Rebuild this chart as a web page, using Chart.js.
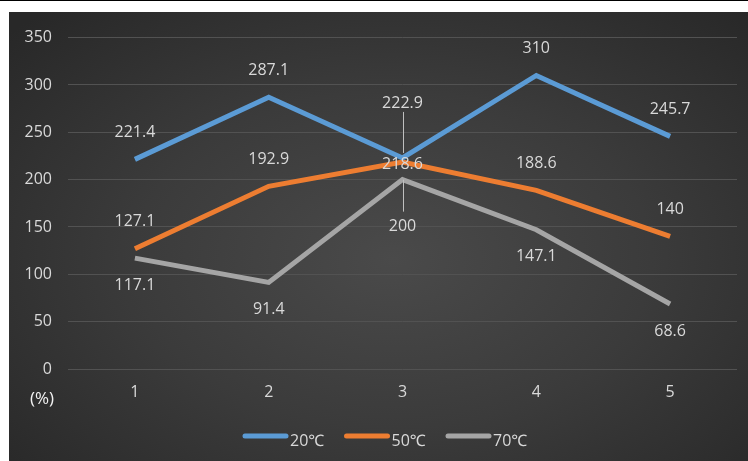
<!DOCTYPE html>
<html>
<head>
<meta charset="utf-8">
<script src="https://cdn.jsdelivr.net/npm/chart.js@4.4.1/dist/chart.umd.min.js"></script>
<style>
  html, body { margin: 0; padding: 0; background: #ffffff; }
  body { width: 748px; height: 461px; position: relative; overflow: hidden; }
  #topline { position: absolute; left: 0; top: 0; width: 748px; height: 1px; background: #000; }
  #panel {
    position: absolute; left: 9px; top: 12px; width: 739px; height: 449px;
    background: radial-gradient(ellipse 70% 75% at 52% 55%, #4a4a4a 0%, #3b3b3b 50%, #282828 100%);
  }
  canvas { display: block; }
</style>
</head>
<body>
<div id="topline"></div>
<div id="panel"><canvas id="chart" width="739" height="449"></canvas></div>
<script>
// Categories and measured values per temperature
const categories = ['1', '2', '3', '4', '5'];
const seriesNames = ['20℃', '50℃', '70℃'];
const values20 = [221.4, 287.1, 222.9, 310, 245.7];
const values50 = [127.1, 192.9, 218.6, 188.6, 140];
const values70 = [117.1, 91.4, 200, 147.1, 68.6];
const yTicks = [0, 50, 100, 150, 200, 250, 300, 350];
const unitLabel = '(%)';

const colors = ['#5b9bd5', '#ed7d31', '#a5a5a5'];
const textColor = '#d9d9d9';
const fontFamily = '"Open Sans", "Noto Sans", sans-serif';

// Where each value label sits relative to its point: [dy, leaderFrom, leaderTo]
const labelPlacement = [
  [[-27], [-27], [-55, -46, -5], [-27], [-27]],
  [[-27], [-27], [2], [-27], [-27]],
  [[27], [27], [47, 0, 32], [27], [27]]
];

const valueLabels = {
  id: 'valueLabels',
  afterDatasetsDraw(chart) {
    const ctx = chart.ctx;
    ctx.save();
    ctx.font = '16px ' + fontFamily;
    ctx.fillStyle = textColor;
    ctx.textAlign = 'center';
    ctx.textBaseline = 'middle';
    chart.data.datasets.forEach((ds, di) => {
      const meta = chart.getDatasetMeta(di);
      meta.data.forEach((pt, i) => {
        const p = labelPlacement[di][i];
        if (p.length === 3) {
          ctx.strokeStyle = '#bfbfbf';
          ctx.lineWidth = 1;
          ctx.beginPath();
          ctx.moveTo(Math.round(pt.x) + 0.5, pt.y + p[1]);
          ctx.lineTo(Math.round(pt.x) + 0.5, pt.y + p[2]);
          ctx.stroke();
        }
        ctx.fillText(String(ds.data[i]), pt.x, pt.y + p[0]);
      });
    });
    ctx.restore();
  },
  afterDraw(chart) {
    const ctx = chart.ctx;
    const area = chart.chartArea;
    ctx.save();
    // unit label under the value axis
    ctx.font = '17px ' + fontFamily;
    ctx.fillStyle = '#f2f2f2';
    ctx.textAlign = 'center';
    ctx.textBaseline = 'middle';
    ctx.fillText(unitLabel, 33, area.bottom + 30);
    // legend with line swatches
    const itemW = 101.5;
    const startX = 234;
    const y = 424;
    ctx.font = '16px ' + fontFamily;
    ctx.textAlign = 'left';
    chart.data.datasets.forEach((ds, di) => {
      const x = startX + di * itemW;
      ctx.strokeStyle = ds.borderColor;
      ctx.lineWidth = 5;
      ctx.lineCap = 'round';
      ctx.beginPath();
      ctx.moveTo(x + 2, y);
      ctx.lineTo(x + 43, y);
      ctx.stroke();
      ctx.fillStyle = textColor;
      ctx.fillText(ds.label, x + 47, y + 5);
    });
    ctx.restore();
  }
};

const datasets = [values20, values50, values70].map((vals, i) => ({
  label: seriesNames[i],
  data: vals,
  borderColor: colors[i],
  backgroundColor: colors[i],
  borderWidth: 5,
  pointRadius: 0,
  pointHoverRadius: 0,
  tension: 0,
  fill: false
}));

new Chart(document.getElementById('chart'), {
  type: 'line',
  data: { labels: categories, datasets },
  options: {
    responsive: false,
    animation: false,
    events: [],
    layout: { padding: { left: 0, right: 11, top: 22, bottom: 0 } },
    plugins: { legend: { display: false }, tooltip: { enabled: false } },
    scales: {
      x: {
        offset: true,
        grid: { display: false, drawTicks: false },
        border: { display: false },
        ticks: { color: textColor, font: { family: fontFamily, size: 16 }, padding: 14 },
        afterFit(scale) { scale.height = 92; }
      },
      y: {
        min: 0,
        max: 350,
        afterBuildTicks(scale) { scale.ticks = yTicks.map(v => ({ value: v })); },
        grid: { color: '#525252', lineWidth: 1, drawTicks: false },
        border: { display: false },
        ticks: { color: textColor, font: { family: fontFamily, size: 16 }, padding: 16 },
        afterFit(scale) { scale.width = 59; }
      }
    }
  },
  plugins: [valueLabels]
});
</script>
</body>
</html>
